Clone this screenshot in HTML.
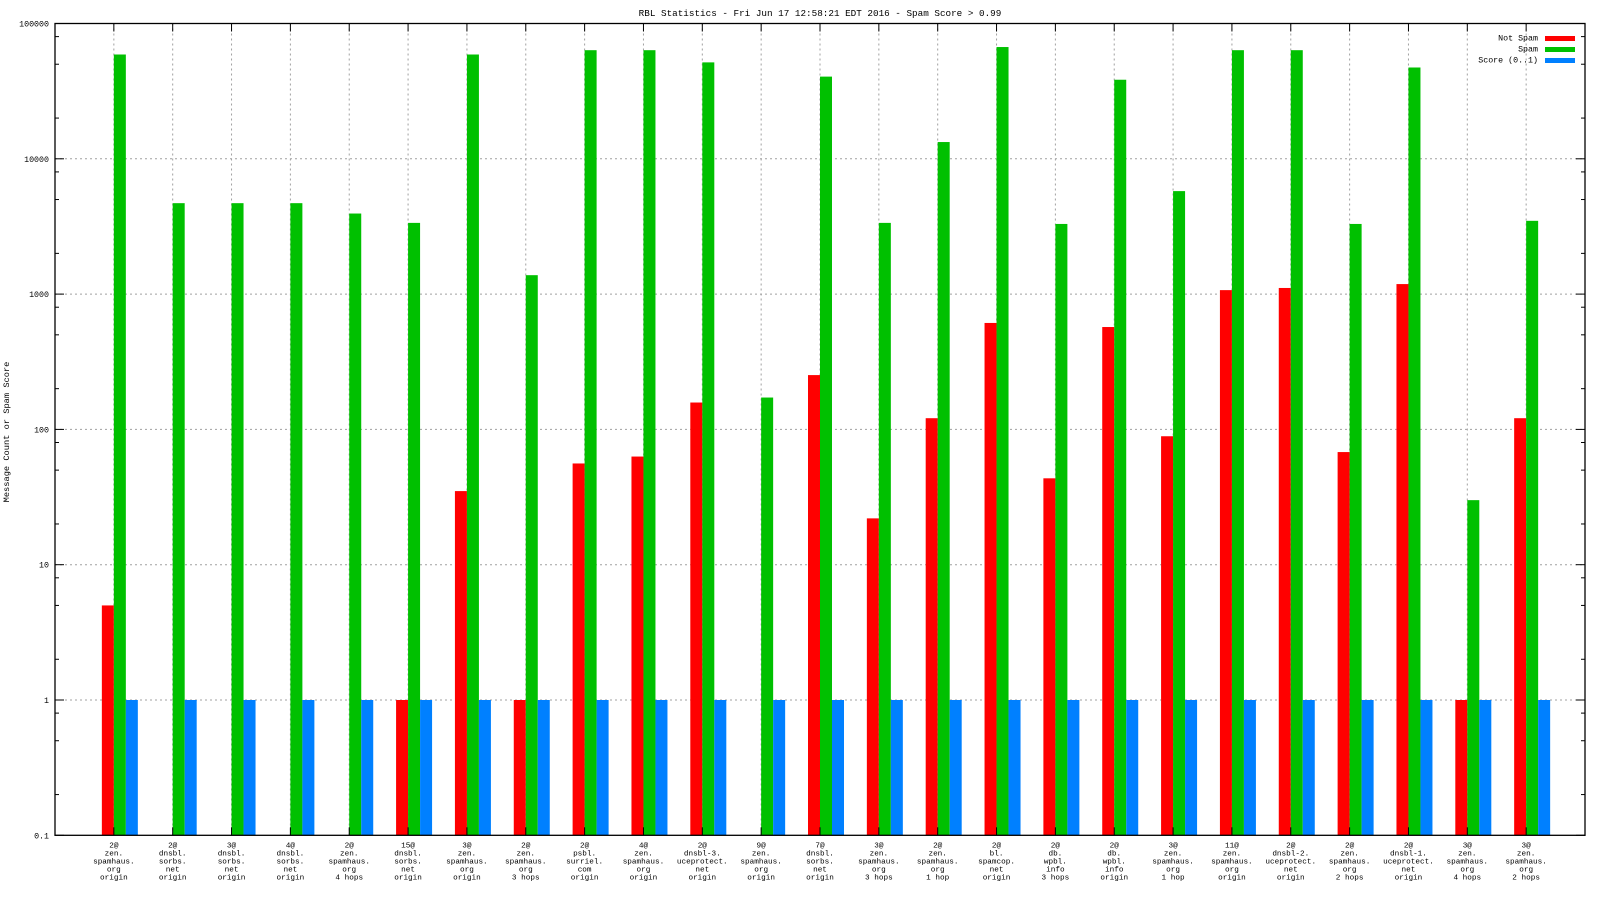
<!DOCTYPE html>
<html><head><meta charset="utf-8"><style>
html,body{margin:0;padding:0;background:#fff}
svg{display:block}
text{font-family:"Liberation Mono",monospace;fill:#000}
</style></head><body>
<svg id="chart" width="1600" height="900" xmlns="http://www.w3.org/2000/svg">
<text x="820" y="16" font-size="9.3" text-anchor="middle">RBL Statistics - Fri Jun 17 12:58:21 EDT 2016 - Spam Score &gt; 0.99</text>
<text transform="translate(9,432) rotate(-90)" font-size="8.7" text-anchor="middle">Message Count or Spam Score</text>
<g id="grid"></g><g id="bars"></g><g id="axes"></g>
<g>
<text x="1538" y="40.5" font-size="8.3" text-anchor="end">Not Spam</text>
<rect x="1545" y="36" width="30" height="5" fill="#ff0000"/>
<text x="1538" y="51.5" font-size="8.3" text-anchor="end">Spam</text>
<rect x="1545" y="47" width="30" height="5" fill="#00c000"/>
<text x="1538" y="62.5" font-size="8.3" text-anchor="end">Score (0..1)</text>
<rect x="1545" y="58" width="30" height="5" fill="#0080ff"/>
</g>
</svg>
<script>
const categories=[
["2@","zen.","spamhaus.","org","origin"],["2@","dnsbl.","sorbs.","net","origin"],["3@","dnsbl.","sorbs.","net","origin"],["4@","dnsbl.","sorbs.","net","origin"],["2@","zen.","spamhaus.","org","4 hops"],["15@","dnsbl.","sorbs.","net","origin"],["3@","zen.","spamhaus.","org","origin"],["2@","zen.","spamhaus.","org","3 hops"],["2@","psbl.","surriel.","com","origin"],["4@","zen.","spamhaus.","org","origin"],["2@","dnsbl-3.","uceprotect.","net","origin"],["9@","zen.","spamhaus.","org","origin"],["7@","dnsbl.","sorbs.","net","origin"],["3@","zen.","spamhaus.","org","3 hops"],["2@","zen.","spamhaus.","org","1 hop"],["2@","bl.","spamcop.","net","origin"],["2@","db.","wpbl.","info","3 hops"],["2@","db.","wpbl.","info","origin"],["3@","zen.","spamhaus.","org","1 hop"],["11@","zen.","spamhaus.","org","origin"],["2@","dnsbl-2.","uceprotect.","net","origin"],["2@","zen.","spamhaus.","org","2 hops"],["2@","dnsbl-1.","uceprotect.","net","origin"],["3@","zen.","spamhaus.","org","4 hops"],["3@","zen.","spamhaus.","org","2 hops"]];
const notSpam=[5,null,null,null,null,1,35,1,56,63,158,null,252,22,121,612,43.5,571,89,1070,1110,68,1186,1,121];
const spam=[59000,4700,4700,4700,3940,3360,59000,1380,63500,63500,51600,172,40500,3360,13300,67000,3300,38400,5770,63500,63500,3300,47300,30,3480];
const score=[1,1,1,1,1,1,1,1,1,1,1,1,1,1,1,1,1,1,1,1,1,1,1,1,1];
const yTicks=[0.1,1,10,100,1000,10000,100000];
const yTickLabels=["0.1","1","10","100","1000","10000","100000"];
const yMinor=[0.2,0.5,0.8,2,5,8,20,50,80,200,500,800,2000,5000,8000,20000,50000,80000];

const NS="http://www.w3.org/2000/svg";
const L=55,R=1585,T=23.5,B=835.3;
const pitch=(R-L)/(categories.length+1);
const bw=12;
function y(v){return B-(Math.log10(v)-Math.log10(0.1))*(B-T)/6;}
function x(i){return L+(i+1)*pitch;}
function mk(tag,attrs,parent){const e=document.createElementNS(NS,tag);for(const k in attrs)e.setAttribute(k,attrs[k]);parent.appendChild(e);return e;}
const grid=document.getElementById('grid'),bars=document.getElementById('bars'),axes=document.getElementById('axes');
yTicks.forEach((v,k)=>{
  if(k>0&&k<yTicks.length-1){const g=mk('line',{x1:L,x2:R,y1:y(v),y2:y(v),stroke:'#a0a0a0','stroke-dasharray':'2,3'},grid);
  
  }
  const t=mk('line',{x1:L,x2:L+9,y1:y(v),y2:y(v),stroke:'#000'},axes);
  
  
  const t2=mk('line',{x1:R-9,x2:R,y1:y(v),y2:y(v),stroke:'#000'},axes);
  
  
  const lb=mk('text',{x:L-6,y:y(v)+3,'font-size':'8.3','text-anchor':'end'},axes);
  lb.textContent=yTickLabels[k];
  
  
});
yMinor.forEach(v=>{
  const t=mk('line',{x1:L,x2:L+4,y1:y(v),y2:y(v),stroke:'#000'},axes);
  
  
  const t2=mk('line',{x1:R-4,x2:R,y1:y(v),y2:y(v),stroke:'#000'},axes);
  
  
});
categories.forEach((c,i)=>{
  const cx=x(i);
  const g=mk('line',{x1:cx,x2:cx,y1:T,y2:B,stroke:'#a0a0a0','stroke-dasharray':'2,3'},grid);
  
  
  const tk=mk('line',{x1:cx,x2:cx,y1:T,y2:T+8,stroke:'#000'},axes);
  
  
  const tk2=mk('line',{x1:cx,x2:cx,y1:B-8,y2:B,stroke:'#000'},axes);
  
  
  const series=[[notSpam[i],'#ff0000',cx-bw,'bar-not-spam'],[spam[i],'#00c000',cx,'bar-spam'],[score[i],'#0080ff',cx+bw,'bar-score']];
  series.forEach(s=>{
    if(s[0]==null)return;
    const r=mk('rect',{x:s[2],y:y(s[0]),width:bw,height:B-y(s[0]),fill:s[1]},bars);
    
    
  });
  const t=mk('text',{x:cx,y:B+12,'font-size':'7.7','text-anchor':'middle'},axes);
  
  
  c.forEach((ln,j)=>{const s=mk('tspan',{x:cx,y:B+12+j*8},t);s.textContent=ln;});
});
const fr=mk('rect',{x:L,y:T,width:R-L,height:B-T,fill:'none',stroke:'#000','stroke-width':1.3},axes);


</script>
</body></html>
